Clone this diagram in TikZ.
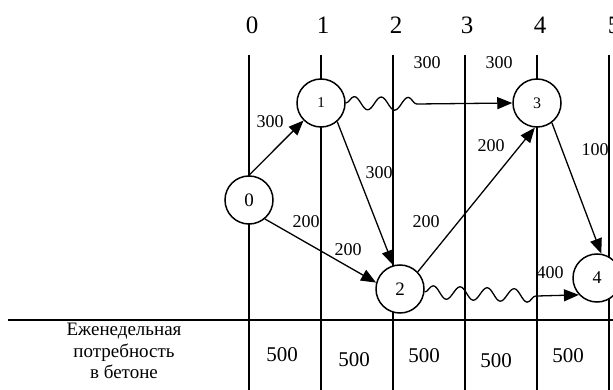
\documentclass[tikz,border=0pt]{standalone}
\usepackage{fontspec}
\setmainfont{Liberation Serif}
\usetikzlibrary{arrows.meta,decorations.pathmorphing}
\begin{document}
\begin{tikzpicture}[x=1pt,y=-1pt,
  gridline/.style={line width=1.5pt},
  event/.style={circle,draw,line width=1.5pt,fill=white,minimum size=48pt,inner sep=0pt},
  work/.style={line width=1.3pt,-{Triangle[length=15pt,width=12pt]}},
  wavy/.style={line width=1.3pt,decorate,decoration={snake,segment length=27pt,amplitude=6.5pt}},
  lbl/.style={font=\fontsize{18}{20}\selectfont,inner sep=0pt},
  col/.style={font=\fontsize{25}{28}\selectfont,inner sep=0pt},
  val/.style={font=\fontsize{21}{24}\selectfont,inner sep=0pt}]
\useasboundingbox (0,0) rectangle (613,390);
\fill[white] (0,0) rectangle (613,390);
% grid
\foreach \x in {249,321,393,465,537,609} \draw[gridline] (\x,55) -- (\x,390);
\draw[gridline] (8,320) -- (613,320);
% column numbers
\node[col] (c0) at (252,25) {0};
\node[col] (c1) at (323,25) {1};
\node[col] (c2) at (396,25) {2};
\node[col] (c3) at (467,25) {3};
\node[col] (c4) at (540,25) {4};
\node[col] (c5) at (614,25) {5};
% events
\node[event,font=\fontsize{19}{20}\selectfont] (n0) at (249,200) {0};
\node[event,font=\fontsize{15}{16}\selectfont] (n1) at (321,103) {1};
\node[event,font=\fontsize{19}{20}\selectfont] (n2) at (400,289) {2};
\node[event,font=\fontsize{16}{17}\selectfont] (n3) at (537,103) {3};
\node[event,font=\fontsize{18}{19}\selectfont] (n4) at (597,278) {4};
\coordinate (w1) at (417,104);
\coordinate (w2) at (537,296);
% works
\draw[work] (n0.north) -- (n1);
\draw[work] (n1.-49) -- (n2.106);
\draw[work] (n0.-50) -- (n2.165);
\draw[work] (n2.44) -- (n3.265);
\draw[work] (n3.-53) -- (n4.80);
\draw[wavy] (n1.east) -- (w1);
\draw[work] (w1) -- (n3.west);
\draw[wavy] (n2.-7) -- (w2);
\draw[work] (w2) -- (n4.223);
% labels
\node[lbl] (l01) at (270,122) {300};
\node[lbl] (l12) at (379,173) {300};
\node[lbl] (l02a) at (306,222) {200};
\node[lbl] (l02b) at (348,250) {200};
\node[lbl] (l13a) at (427,63) {300};
\node[lbl] (l13b) at (499,63) {300};
\node[lbl] (l23a) at (426,222) {200};
\node[lbl] (l23b) at (491,146) {200};
\node[lbl] (l34) at (595,150) {100};
\node[lbl] (l24) at (550,273) {400};
% table
\node[font=\fontsize{19}{21.5}\selectfont,align=center,inner sep=0pt] (tbl) at (124,351) {Еженедельная\\потребность\\в бетоне};
\node[val] (v1) at (282,355) {500};
\node[val] (v2) at (354,360) {500};
\node[val] (v3) at (424,356) {500};
\node[val] (v4) at (496,361) {500};
\node[val] (v5) at (568,356) {500};
\end{tikzpicture}
\end{document}
